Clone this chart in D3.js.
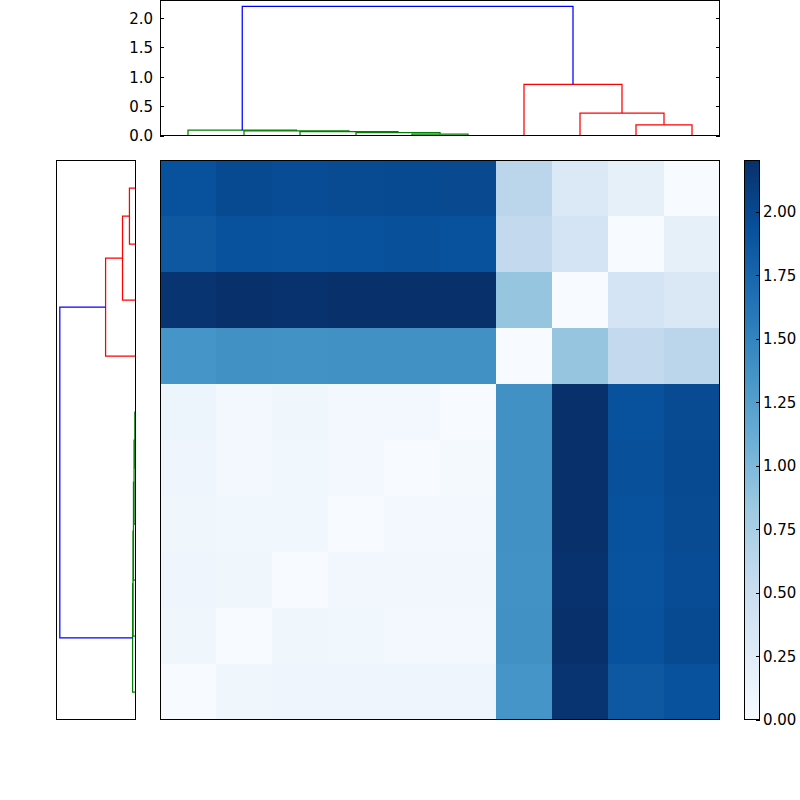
<!DOCTYPE html>
<html>
<head>
<meta charset="utf-8">
<script src="https://cdnjs.cloudflare.com/ajax/libs/d3/7.8.5/d3.min.js"></script>
<style>
  body { margin: 0; background: #fff; }
  text { font-family: "DejaVu Sans", sans-serif; font-size: 15px; fill: #000; }
</style>
</head>
<body>
<div id="chart"></div>
<script>
// distance matrix as shown (rows top->bottom, cols left->right)
var heatRows = [
  [1.93, 1.99, 1.97, 1.98, 1.99, 2.00, 0.63, 0.31, 0.19, 0.00],
  [1.87, 1.93, 1.92, 1.93, 1.94, 1.93, 0.57, 0.39, 0.00, 0.19],
  [2.17, 2.20, 2.19, 2.20, 2.205, 2.20, 0.87, 0.00, 0.39, 0.32],
  [1.35, 1.39, 1.38, 1.39, 1.39, 1.39, 0.00, 0.87, 0.57, 0.63],
  [0.11, 0.055, 0.09, 0.055, 0.045, 0.00, 1.39, 2.20, 1.93, 1.98],
  [0.10, 0.06, 0.075, 0.055, 0.00, 0.034, 1.39, 2.205, 1.94, 1.99],
  [0.09, 0.075, 0.075, 0.00, 0.05, 0.055, 1.39, 2.20, 1.93, 1.98],
  [0.10, 0.09, 0.00, 0.07, 0.07, 0.07, 1.38, 2.19, 1.92, 1.97],
  [0.09, 0.00, 0.09, 0.075, 0.06, 0.06, 1.39, 2.20, 1.93, 1.99],
  [0.00, 0.09, 0.095, 0.10, 0.10, 0.10, 1.35, 2.17, 1.87, 1.93]
];

// linkage: [left child, right child, height]; leaves 0..9, new nodes from 10
var merges = [
  [8, 9, 0.19],
  [4, 5, 0.034],
  [3, 11, 0.056],
  [7, 10, 0.39],
  [2, 12, 0.073],
  [1, 14, 0.086],
  [0, 15, 0.098],
  [6, 13, 0.88],
  [16, 17, 2.205]
];

var heightTicks = [0, 0.5, 1.0, 1.5, 2.0];
var colorTicks = [0, 0.25, 0.5, 0.75, 1.0, 1.25, 1.5, 1.75, 2.0];
var bluesStops = ["#f7fbff", "#deebf7", "#c6dbef", "#9ecae1", "#6baed6",
                  "#4292c6", "#2171b5", "#08519c", "#08306b"];
var clusterColors = ["#008000", "#ff0000"];
var rootColor = "#0000ff";

var W = 800, H = 800;
var svg = d3.select("#chart").append("svg")
    .attr("width", W)
    .attr("height", H);

var nLeaves = heatRows.length;

// pixel centre for 1px frame/tick lines
function px(v) { return Math.round(v - 0.5) + 0.5; }

// --- dendrogram layout (scipy style) ---
var pos = d3.range(nLeaves).map(function (i) { return 5 + 10 * i; });
var hgt = d3.range(nLeaves).map(function () { return 0; });
var parent = [];
merges.forEach(function (m, k) {
    var id = nLeaves + k;
    pos[id] = (pos[m[0]] + pos[m[1]]) / 2;
    hgt[id] = m[2];
    parent[m[0]] = id;
    parent[m[1]] = id;
});
var maxH = d3.max(merges, function (m) { return m[2]; });
var threshold = 0.7 * maxH;

function groupOf(id) {
    while (parent[id] !== undefined && hgt[parent[id]] < threshold) id = parent[id];
    return id;
}
var groups = [];
merges.forEach(function (m, k) {
    var id = nLeaves + k;
    if (hgt[id] < threshold) {
        var g = groupOf(id);
        if (groups.indexOf(g) < 0) groups.push(g);
    }
});
groups.sort(function (a, b) { return pos[a] - pos[b]; });

function linkColor(k) {
    var id = nLeaves + k;
    if (hgt[id] >= threshold) return rootColor;
    return clusterColors[groups.indexOf(groupOf(id)) % clusterColors.length];
}

// --- top dendrogram ---
var topX = d3.scaleLinear().domain([0, nLeaves * 10]).range([160, 720]);
var topY = d3.scaleLinear().domain([0, maxH * 1.05]).range([136, 0]);

var topG = svg.append("g");
topG.selectAll("path.link")
    .data(merges)
    .enter()
    .append("path")
    .attr("class", "link")
    .attr("fill", "none")
    .attr("stroke-width", 1.25)
    .attr("stroke", function (d, k) { return linkColor(k); })
    .attr("d", function (d, k) {
        var id = nLeaves + k;
        return "M" + topX(pos[d[0]]) + "," + topY(hgt[d[0]]) +
            "V" + topY(hgt[id]) +
            "H" + topX(pos[d[1]]) +
            "V" + topY(hgt[d[1]]);
    });

topG.append("rect")
    .attr("x", 160.5).attr("y", 0.5)
    .attr("width", 559).attr("height", 135)
    .attr("fill", "none").attr("stroke", "#000");

heightTicks.forEach(function (t) {
    var y = px(topY(t));
    topG.append("line").attr("x1", 160).attr("x2", 164).attr("y1", y).attr("y2", y).attr("stroke", "#000");
    topG.append("line").attr("x1", 720).attr("x2", 716).attr("y1", y).attr("y2", y).attr("stroke", "#000");
    topG.append("text")
        .attr("x", 153)
        .attr("y", topY(t))
        .attr("dy", "0.36em")
        .attr("text-anchor", "end")
        .text(d3.format(".1f")(t));
});

// --- left dendrogram ---
var leftY = d3.scaleLinear().domain([0, nLeaves * 10]).range([720, 160]);
var leftX = d3.scaleLinear().domain([0, maxH * 1.05]).range([136, 56]);

var leftG = svg.append("g");
leftG.selectAll("path.link")
    .data(merges)
    .enter()
    .append("path")
    .attr("class", "link")
    .attr("fill", "none")
    .attr("stroke-width", 1.25)
    .attr("stroke", function (d, k) { return linkColor(k); })
    .attr("d", function (d, k) {
        var id = nLeaves + k;
        return "M" + leftX(hgt[d[0]]) + "," + leftY(pos[d[0]]) +
            "H" + leftX(hgt[id]) +
            "V" + leftY(pos[d[1]]) +
            "H" + leftX(hgt[d[1]]);
    });

leftG.append("rect")
    .attr("x", 56.5).attr("y", 160.5)
    .attr("width", 79).attr("height", 559)
    .attr("fill", "none").attr("stroke", "#000");

// --- heatmap ---
var vmax = d3.max(heatRows, function (r) { return d3.max(r); });
var color = d3.scaleLinear()
    .domain(bluesStops.map(function (c, i) { return vmax * i / (bluesStops.length - 1); }))
    .range(bluesStops)
    .clamp(true);

var colBand = d3.scaleBand().domain(d3.range(nLeaves)).range([160, 720]);
var rowBand = d3.scaleBand().domain(d3.range(nLeaves)).range([160, 720]);

var cells = [];
heatRows.forEach(function (row, r) {
    row.forEach(function (v, c) { cells.push({ r: r, c: c, v: v }); });
});

var heat = svg.append("g");
heat.selectAll("rect.cell")
    .data(cells)
    .enter()
    .append("rect")
    .attr("class", "cell")
    .attr("x", function (d) { return colBand(d.c); })
    .attr("y", function (d) { return rowBand(d.r); })
    .attr("width", colBand.bandwidth())
    .attr("height", rowBand.bandwidth())
    .attr("shape-rendering", "crispEdges")
    .attr("fill", function (d) { return color(d.v); });

heat.append("rect")
    .attr("x", 160.5).attr("y", 160.5)
    .attr("width", 559).attr("height", 559)
    .attr("fill", "none").attr("stroke", "#000");

// --- colorbar ---
var cbY = d3.scaleLinear().domain([0, vmax]).range([720, 160]);
var grad = svg.append("defs").append("linearGradient")
    .attr("id", "cbgrad")
    .attr("x1", 0).attr("y1", 1).attr("x2", 0).attr("y2", 0);
grad.selectAll("stop")
    .data(bluesStops)
    .enter()
    .append("stop")
    .attr("offset", function (d, i) { return i / (bluesStops.length - 1); })
    .attr("stop-color", function (d) { return d; });

var cb = svg.append("g");
cb.append("rect")
    .attr("x", 744).attr("y", 160)
    .attr("width", 16).attr("height", 560)
    .attr("fill", "url(#cbgrad)");
cb.append("rect")
    .attr("x", 744.5).attr("y", 160.5)
    .attr("width", 15).attr("height", 559)
    .attr("fill", "none").attr("stroke", "#000");

colorTicks.forEach(function (t) {
    var y = px(cbY(t));
    cb.append("line").attr("x1", 760).attr("x2", 756).attr("y1", y).attr("y2", y).attr("stroke", "#000");
    cb.append("text")
        .attr("x", 763)
        .attr("y", cbY(t))
        .attr("dy", "0.36em")
        .text(d3.format(".2f")(t));
});
</script>
</body>
</html>
